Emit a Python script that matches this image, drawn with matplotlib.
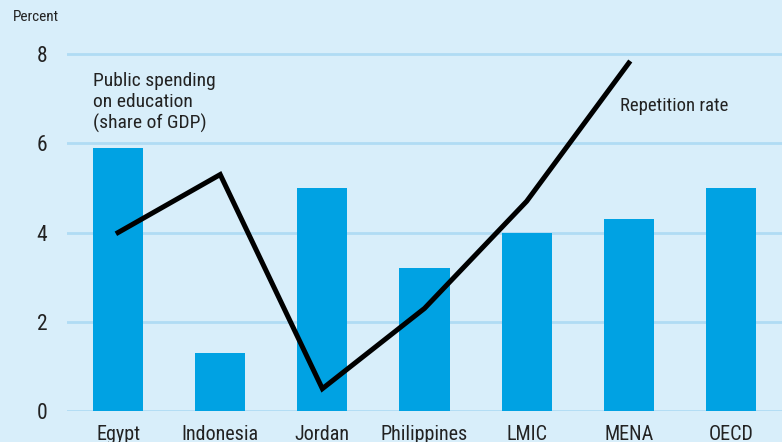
import matplotlib
matplotlib.use("Agg")
import matplotlib.pyplot as plt

plt.rcParams["font.family"] = ["Roboto Condensed", "Liberation Sans Narrow", "Roboto", "DejaVu Sans"]

countries = ["Egypt", "Indonesia", "Jordan", "Philippines", "LMIC", "MENA", "OECD"]
spending = [5.9, 1.3, 5.0, 3.2, 4.0, 4.3, 5.0]
rep_countries = ["Egypt", "Indonesia", "Jordan", "Philippines", "LMIC", "MENA"]
repetition = [4.0, 5.3, 0.5, 2.3, 4.7, 7.8]
yticks = [0, 2, 4, 6, 8]

BG = "#d8eefa"
BAR = "#00a2e3"
GRID = "#b0dcf4"
TXT = "#222222"

fig = plt.figure(figsize=(7.82, 4.42), dpi=100, facecolor=BG)
ax = fig.add_axes([67/782, 31/442, 715/782, 381/442], facecolor=BG)

x = list(range(len(countries)))
ax.bar(x, spending, width=0.49, color=BAR, zorder=2)
xr = [countries.index(c) for c in rep_countries]
ax.plot(xr, repetition, color="black", lw=3.6, solid_joinstyle="miter", zorder=3)

ax.set_xlim(-0.5, 6.5)
ax.set_ylim(0, 8.54)
ax.set_yticks(yticks)
ax.set_yticklabels([str(t) for t in yticks], fontsize=15.5, color=TXT)
ax.set_xticks(x)
ax.set_xticklabels(countries, fontsize=14.5, color=TXT)
ax.tick_params(axis="y", length=0, pad=14)
ax.tick_params(axis="x", length=0, pad=10)
for t in yticks:
    ax.axhline(t, color=GRID, lw=2, zorder=1)
for s in ax.spines.values():
    s.set_visible(False)

fig.text(13/782, 1 - 17/442, "Percent", fontsize=11, color=TXT, va="center", ha="left")
ax.text(-0.25, 7.6, "Public spending\non education\n(share of GDP)", fontsize=14,
        color=TXT, va="top", ha="left", linespacing=1.2)
ax.text(4.91, 6.83, "Repetition rate", fontsize=13.5, color=TXT, va="center", ha="left")

fig.savefig("out.png", dpi=100, facecolor=BG)
